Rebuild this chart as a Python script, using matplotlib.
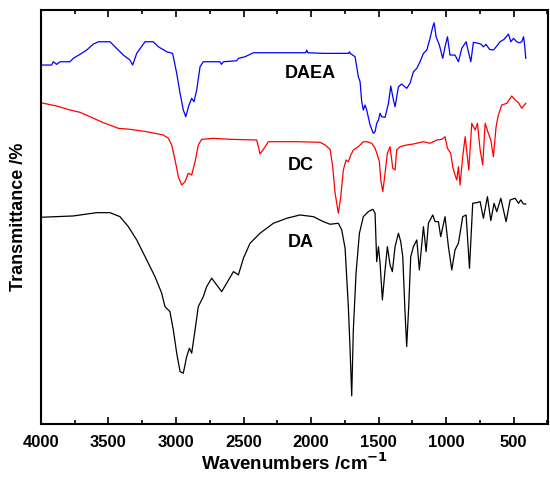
import matplotlib.pyplot as plt
from matplotlib.ticker import MultipleLocator

# wavenumber (cm-1) and transmittance (arbitrary, stacked)
daea_wn = [4000, 3921, 3909, 3884, 3859, 3785, 3761, 3699, 3662, 3612, 3575, 3489, 3452, 3390,
           3341, 3321, 3291, 3230, 3168, 3131, 3069, 3025, 2995, 2970, 2946, 2928, 2904, 2884,
           2867, 2847, 2822, 2798, 2674, 2664, 2649, 2551, 2538, 2489, 2427, 2040, 2032, 2024,
           1909, 1859, 1722, 1716, 1710, 1674, 1650,
           1637, 1625, 1613, 1600, 1588, 1563, 1539, 1526, 1514, 1501, 1489, 1477, 1452, 1427,
           1410, 1390, 1378, 1353, 1329, 1292, 1267, 1242, 1217, 1193, 1168, 1143, 1119, 1099,
           1089, 1074, 1050, 1025, 1008, 990, 971, 934, 909, 884, 852, 835, 817, 798, 761, 743,
           724, 704, 679, 650, 625, 600, 571, 538, 521, 501, 477, 457, 440, 427, 420, 410]
daea_t = [359, 359, 362.3, 359.7, 362.3, 362.3, 365.7, 370.7, 374, 380, 382.3, 382.3, 377.3, 369,
          364, 359, 370.7, 382.3, 382.3, 377.3, 372.3, 370.7, 350.7, 330.7, 314, 307.3, 319, 325.7,
          322.3, 334, 357.3, 362.3, 362.3, 359.7, 362.3, 363.3, 365.7, 367.3, 371.3, 371.3, 374, 371.3,
          370.7, 370.7, 370.7, 372.3, 370.7, 367.3, 347.3,
          342.3, 322.3, 314, 319, 314, 299, 290.7, 292.3, 300.7, 304, 310.7, 307.3, 306.7, 320.7,
          338, 324, 317.3, 337.3, 340, 335.7, 340.7, 352.3, 355.7, 362.3, 370.7, 374, 385.7, 397.3,
          401.3, 387.3, 379, 365.7, 377.3, 387.3, 369, 369, 362.3, 375.7, 382.3, 372.3, 362.3, 381.7, 380.7, 380,
          377.3, 379.7, 374.7, 374, 378, 382.3, 384.7, 390, 382.3, 385.7, 382.3, 381.3, 382.3, 387.3, 380.7, 365.7]

dc_wn = [4000, 3884, 3785, 3711, 3637, 3538, 3427, 3341, 3217, 3094, 3057, 3032, 3007, 2983,
         2958, 2933, 2909, 2884, 2859, 2835, 2810, 2724, 2600, 2403, 2390, 2378, 2353, 2316,
         2106, 1933, 1896,
         1859, 1840, 1822, 1798, 1780, 1761, 1741, 1724, 1706, 1687, 1650, 1613, 1588, 1551,
         1526, 1509, 1494, 1484, 1469, 1452, 1435, 1415, 1395, 1378, 1366, 1341, 1292, 1242,
         1168, 1119, 1069, 1032, 1008, 990, 966, 951, 934, 921, 909, 897, 877, 859, 847, 832,
         810, 785, 768, 748, 729, 711, 687, 669, 650, 630, 613, 588, 551, 514, 489, 464, 440, 427, 410]
dc_t = [321.3, 318, 314, 311.7, 307.3, 301.3, 295.7, 294.7, 292.3, 289, 285.7, 279, 264, 247.3,
        239, 242.3, 250.7, 249, 262.3, 279, 284.7, 285.7, 284.7, 284, 277.3, 270, 274.7, 282.3,
        282.3, 281.7, 279,
        274.7, 257.3, 230.7, 210.7, 227.3, 254, 264, 262.3, 269, 274, 277.3, 282.3, 282.3, 280.7,
        275.7, 269, 262.3, 244, 232.3, 250.7, 270.7, 277.3, 255.7, 254, 274, 277.3, 279, 280,
        282.3, 280.7, 284, 284.7, 287.3, 275.7, 270.7, 257.3, 249, 244, 257.3, 239, 267.3, 287.3, 272.3, 254,
        300.7, 294, 300.7, 274, 259, 300.7, 290.7, 284, 267.3, 297.3, 309, 319, 320.7, 328, 324, 321.3, 315.7, 318, 320.7]

da_wn = [4000, 3761, 3588, 3489, 3415, 3353, 3291, 3217, 3156, 3106, 3082, 3045, 3020, 2995,
         2970, 2946, 2921, 2901, 2884, 2859, 2835, 2798, 2773, 2736, 2699, 2662, 2625, 2575,
         2538, 2501, 2452, 2378, 2279, 2180, 2082, 1983, 1909, 1859,
         1798, 1773, 1748, 1724, 1711, 1699, 1687, 1667, 1642, 1613, 1576, 1543, 1526, 1514,
         1501, 1489, 1472, 1452, 1435, 1415, 1398, 1378, 1353, 1336, 1321, 1304, 1292, 1277,
         1262, 1242, 1217, 1198, 1168, 1148, 1131, 1099, 1082, 1057, 1040, 1008, 983, 958, 934,
         909, 877, 852, 827, 803, 773, 748, 724, 694, 669, 645, 625, 595, 556, 526, 489, 464,
         447, 427, 410]
da_t = [206.7, 208, 211.3, 211.3, 207.3, 197.3, 184, 164, 147.3, 130.7, 117.3, 112.3, 94, 70.7,
        52.3, 50.7, 67.3, 75.7, 70.7, 94, 117.3, 127.3, 137.3, 145.7, 139, 132.3, 140.7, 152.3,
        149, 165.7, 180.7, 190.7, 200.7, 205.7, 209, 207.3, 202.3, 199.7,
        200.7, 194, 175.7, 117.3, 74, 28, 94, 150.7, 190.7, 207.3, 212.3, 214.7, 210.7, 162.3,
        177.3, 160.7, 124, 154, 177.3, 159, 152.3, 177.3, 190.7, 182.3, 167.3, 110.7, 77.3, 117.3,
        167.3, 177.3, 184, 154, 197.3, 172.3, 200.7, 209, 202.3, 202.3, 187.3, 207.3, 177.3, 154, 174,
        180.7, 207.3, 209, 155.7, 220.7, 221.3, 222.3, 205.7, 227.3, 203.3, 220.7, 212.3, 225.7, 202.3, 224, 225.7, 220.7,
        224, 220, 220]

plt.rcParams['font.family'] = ['Liberation Sans', 'DejaVu Sans']
plt.rcParams['font.weight'] = 'bold'

fig = plt.figure(figsize=(5.5, 4.8), dpi=100)
ax = fig.add_axes([0.0745, 0.117, 0.922, 0.862])

ax.plot(daea_wn, daea_t, color='#0000ff', lw=0.9)
ax.plot(dc_wn, dc_t, color='#ff0000', lw=0.9)
ax.plot(da_wn, da_t, color='black', lw=0.9)

ax.text(2007, 351, "DAEA", fontsize=13, fontweight='bold', ha='center', va='center')
ax.text(2077, 258, "DC", fontsize=13, fontweight='bold', ha='center', va='center')
ax.text(2077, 181, "DA", fontsize=13, fontweight='bold', ha='center', va='center')

ax.set_xlim(4000, 245)
ax.set_ylim(0, 414)
ax.xaxis.set_major_locator(MultipleLocator(500))
ax.xaxis.set_minor_locator(MultipleLocator(250))
ax.tick_params(axis='x', which='both', direction='in', top=True, width=1.2, labelsize=12, pad=8)
ax.tick_params(axis='x', which='major', length=5)
ax.tick_params(axis='x', which='minor', length=3)
ax.set_yticks([])
for s in ax.spines.values():
    s.set_linewidth(1.5)

ax.set_xlabel("Wavenumbers /cm$^{\\mathbf{-1}}$", fontsize=13.5, fontweight='bold', labelpad=2)
ax.set_ylabel("Transmittance /%", fontsize=13, fontweight='bold', labelpad=10)

fig.savefig("out.png", dpi=100)
